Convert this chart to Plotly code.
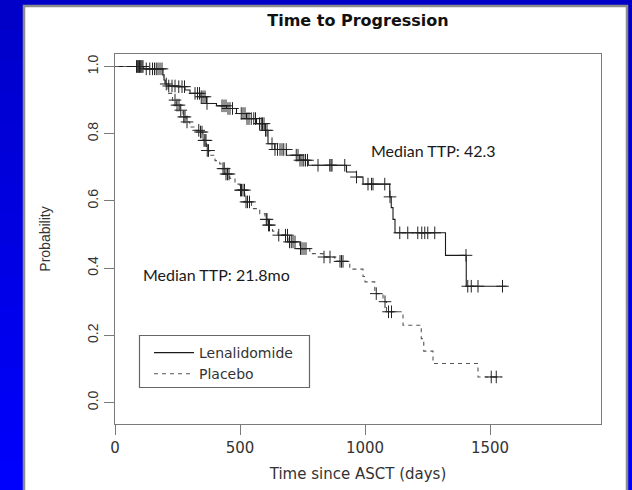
import plotly.graph_objects as go
from bisect import bisect_right

# ---------------- data ----------------
len_times = [0, 115, 192, 196, 200, 215, 250, 280, 300, 340, 366, 406, 446, 486, 526, 566,
             600, 612, 639, 686, 739, 773, 926, 966, 992, 1099, 1105, 1112, 1120, 1322, 1405]
len_surv = [1.0, 0.993, 0.975, 0.96, 0.948, 0.942, 0.94, 0.93, 0.92, 0.91, 0.89, 0.883, 0.875,
            0.86, 0.845, 0.83, 0.81, 0.77, 0.753, 0.736, 0.721, 0.706, 0.686, 0.671, 0.65,
            0.612, 0.58, 0.545, 0.505, 0.438, 0.346]
len_end = 1566
len_censor = [86, 89, 92, 95, 98, 101, 104, 108, 112, 125, 139, 150, 158, 165, 172, 180, 188,
              205, 215, 228, 240, 255, 268, 278, 320, 330, 338, 345, 352, 360, 368, 428, 436,
              444, 452, 460, 470, 505, 512, 520, 528, 536, 545, 555, 562, 578, 585, 590, 596,
              602, 608, 628, 640, 650, 660, 668, 675, 685, 725, 732, 740, 748, 755, 762, 770,
              812, 859, 864, 868, 919, 966, 1012, 1026, 1032, 1079, 1100, 1139, 1171, 1211,
              1227, 1239, 1251, 1279, 1404, 1411, 1425, 1452, 1550]

pla_times = [0, 115, 192, 196, 202, 212, 230, 245, 260, 272, 285, 299, 320, 339, 352, 366, 379,
             400, 419, 426, 440, 459, 480, 499, 519, 546, 579, 600, 612, 630, 652, 692, 739,
             779, 832, 879, 939, 992, 1000, 1039, 1072, 1086, 1152, 1225, 1235, 1272, 1452]
pla_surv = [1.0, 0.993, 0.975, 0.96, 0.945, 0.92, 0.9, 0.885, 0.87, 0.85, 0.835, 0.82, 0.81,
            0.805, 0.78, 0.75, 0.736, 0.72, 0.71, 0.696, 0.68, 0.667, 0.65, 0.632, 0.597,
            0.577, 0.562, 0.545, 0.528, 0.51, 0.498, 0.478, 0.458, 0.443, 0.433, 0.42, 0.397,
            0.375, 0.359, 0.324, 0.30, 0.27, 0.23, 0.19, 0.153, 0.116, 0.076]
pla_end = 1546
pla_censor = [240, 248, 256, 263, 275, 280, 288, 335, 342, 348, 356, 360, 364, 369, 374, 432,
              437, 444, 450, 456, 502, 506, 512, 518, 524, 530, 538, 605, 608, 614, 618, 655,
              682, 690, 698, 705, 712, 720, 742, 748, 756, 764, 836, 860, 900, 906, 912, 1045,
              1080, 1094, 1106, 1505, 1525]

x_ticks = [0, 500, 1000, 1500]
y_ticks = [0.0, 0.2, 0.4, 0.6, 0.8, 1.0]
series_names = ["Lenalidomide", "Placebo"]
median_labels = ["Median TTP: 42.3", "Median TTP: 21.8mo"]
median_pos = [(1272, 0.749), (407, 0.382)]


def step_line(times, surv, end):
    return list(times) + [end], list(surv) + [surv[-1]]


def surv_at(times, surv, t):
    return surv[bisect_right(times, t) - 1]


# ---------------- figure ----------------
W, H = 632, 490
ML, MR, MT, MB = 115, 31, 54, 66
PW, PH = W - ML - MR, H - MT - MB


def px(xp):
    return (xp - ML) / PW


def py(yp):
    return (H - MB - yp) / PH


fig = go.Figure()

curves = [
    (len_times, len_surv, len_end, len_censor, dict(color="#1a1a1a", width=1.1, dash="solid")),
    (pla_times, pla_surv, pla_end, pla_censor, dict(color="#555555", width=1.1, dash="4px,4px")),
]
for name, (t, s, e, c, ln) in zip(series_names, curves):
    xs, ys = step_line(t, s, e)
    fig.add_trace(go.Scatter(x=xs, y=ys, mode="lines", line_shape="hv", line=ln, name=name,
                             hoverinfo="skip"))
for name, (t, s, e, c, ln) in zip(series_names, curves):
    fig.add_trace(go.Scatter(
        x=c, y=[surv_at(t, s, v) for v in c], mode="markers", showlegend=False,
        marker=dict(symbol="cross-thin", size=9, color="#222222",
                    line=dict(width=1, color="#222222")),
        hoverinfo="skip"))

# background decoration: blue gradient frame and white panel
shapes = []
nb = 16
for i in range(nb):
    y0p = H * i / nb
    y1p = H * (i + 1) / nb
    f = (i + 0.5) / nb
    b = int(200 + 55 * f)
    shapes.append(dict(type="rect", xref="paper", yref="paper", layer="below",
                       x0=px(0), x1=px(W), y0=py(y1p), y1=py(y0p),
                       fillcolor=f"rgb(0,0,{b})", line=dict(width=0)))
shapes.append(dict(type="rect", xref="paper", yref="paper", layer="below",
                   x0=px(24), x1=px(627), y0=py(H + 5), y1=py(6),
                   fillcolor="white", line=dict(color="#8c8c8c", width=2.5)))
# legend frame
shapes.append(dict(type="rect", xref="paper", yref="paper", layer="above",
                   x0=px(139.5), x1=px(309.5), y0=py(387.5), y1=py(335.5),
                   fillcolor="rgba(0,0,0,0)", line=dict(color="#666666", width=1.2)))

annotations = []
for txt, (xv, yv) in zip(median_labels, median_pos):
    annotations.append(dict(x=xv, y=yv, xref="x", yref="y", text=txt, showarrow=False,
                            font=dict(family="Lato", size=16, color="#1a1a1a"),
                            xanchor="center", yanchor="middle"))

axis_common = dict(showgrid=False, zeroline=False, showline=True, mirror=True,
                   linecolor="#7a7a7a", linewidth=1.3, ticks="outside", ticklen=10,
                   tickcolor="#7a7a7a", tickwidth=1.2, automargin=False)

fig.update_layout(
    width=W, height=H,
    margin=dict(l=ML, r=MR, t=MT, b=MB),
    paper_bgcolor="rgb(0,0,230)", plot_bgcolor="white",
    shapes=shapes, annotations=annotations,
    title=dict(text="<b>Time to Progression</b>", x=px(358), xref="paper", xanchor="center",
               y=1 - 20 / H, yref="container", yanchor="middle",
               font=dict(family="DejaVu Sans", size=16, color="#111111")),
    xaxis=dict(range=[0, PW / 0.25], tickvals=x_ticks,
               tickfont=dict(family="DejaVu Sans", size=15, color="#333333"),
               title=dict(text="Time since ASCT (days)", standoff=12,
                          font=dict(family="DejaVu Sans", size=15, color="#333333")),
               **axis_common),
    yaxis=dict(range=[-0.064, -0.064 + PH / 336.0], tickvals=y_ticks, tickformat=".1f",
               tickangle=-90,
               tickfont=dict(family="Liberation Sans", size=14, color="#333333"),
               title=dict(text="Probability", standoff=31,
                          font=dict(family="Liberation Sans", size=14, color="#333333")),
               **axis_common),
    legend=dict(x=px(149), y=py(337), xanchor="left", yanchor="top",
                bgcolor="rgba(0,0,0,0)", borderwidth=0, itemwidth=40,
                font=dict(family="DejaVu Sans", size=14, color="#333333"),
                tracegroupgap=0),
    showlegend=True,
)

fig.write_html("out.html", config={"displayModeBar": False},
               post_script="document.body.style.margin='0px';document.body.style.overflow='hidden';")
